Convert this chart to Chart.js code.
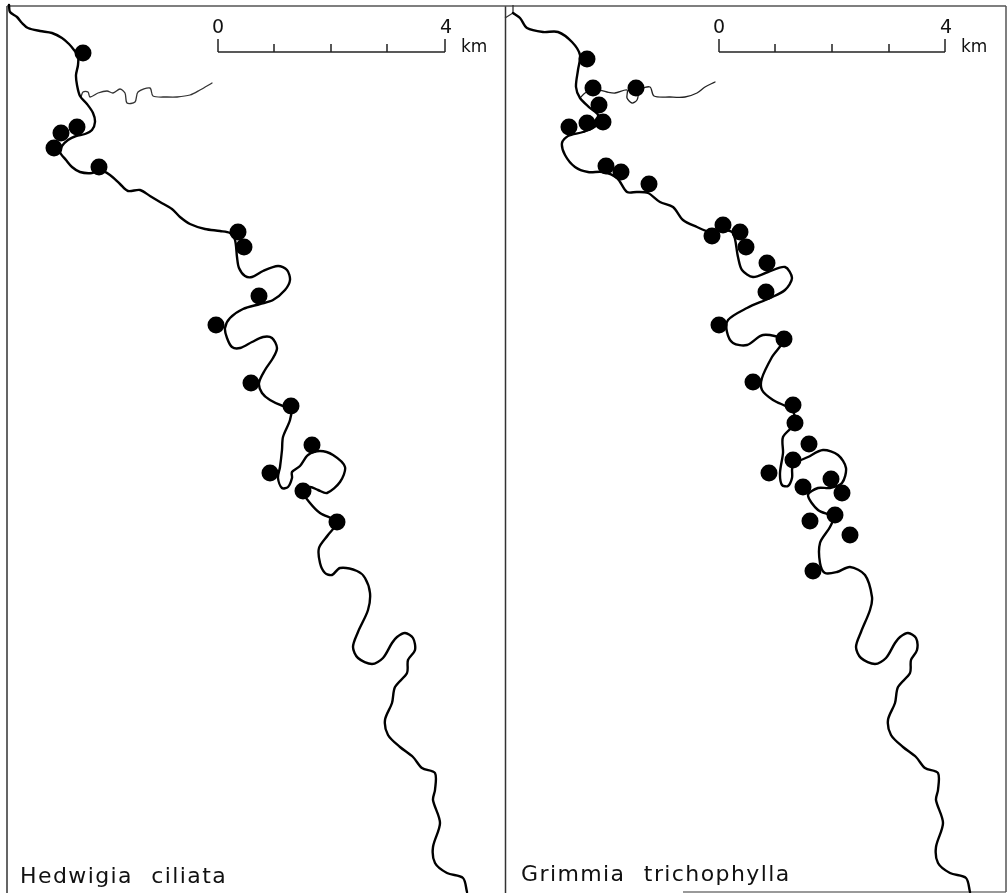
<!DOCTYPE html>
<html lang="en">
<head>
<meta charset="UTF-8">
<title>Hedwigia ciliata / Grimmia trichophylla</title>
<script src="https://cdn.jsdelivr.net/npm/chart.js"></script>
<style>
    html, body { margin: 0; padding: 0; background: white; }
    #wrap { width: 1007px; height: 893px; }
</style>
</head>
<body>
<div id="wrap"><canvas id="map"></canvas></div>
<script>
const riverLeft = [[9,5],[10,12],[17,17],[22,23],[28,28],[40,31],[52,33],[62,38],[69,44],[74,50],[78,56],[78,65],[76,75],[77,85],[80,96],[87,104],[93,113],[95,122],[92,130],[85,134],[76,136],[68,140],[62,146],[60,152],[66,160],[72,167],[80,172],[92,173],[100,170],[110,175],[120,184],[128,191],[140,190],[150,196],[160,202],[172,209],[180,217],[190,224],[205,229],[220,231],[230,233],[235,240],[237,257],[239,268],[245,276],[252,277],[263,271],[278,266],[287,270],[290,280],[285,290],[273,300],[260,304],[243,309],[230,318],[225,328],[227,338],[232,347],[240,348],[252,342],[263,337],[272,338],[277,348],[273,358],[265,370],[259,383],[262,393],[270,400],[283,406],[291,407],[290,420],[283,437],[282,450],[280,467],[278,478],[282,488],[288,487],[292,478],[292,472],[300,466],[308,455],[320,451],[333,455],[345,467],[340,482],[327,493],[318,490],[310,487],[303,492],[310,503],[320,513],[337,522],[328,535],[319,548],[320,563],[325,573],[332,575],[340,568],[357,571],[365,578],[370,593],[368,610],[358,632],[353,647],[358,658],[372,664],[383,658],[392,643],[397,637],[405,633],[413,638],[415,650],[408,660],[407,673],[395,687],[392,703],[385,720],[388,735],[400,747],[413,757],[422,768],[435,773],[435,790],[433,800],[440,823],[433,847],[435,863],[447,873],[463,878],[467,892]];
const riverRight = [[513,13],[520,18],[527,28],[543,32],[558,32],[572,42],[580,55],[578,70],[576,87],[580,98],[590,108],[598,115],[597,125],[583,132],[568,136],[562,143],[565,155],[575,167],[588,172],[603,172],[617,178],[627,192],[637,192],[648,193],[660,202],[673,207],[683,220],[697,227],[710,232],[723,230],[733,233],[738,257],[742,270],[753,277],[768,272],[785,267],[792,278],[785,290],[770,298],[747,308],[728,320],[727,332],[733,343],[747,345],[763,335],[783,340],[772,357],[762,378],[762,390],[773,400],[792,410],[795,423],[783,437],[783,453],[780,473],[782,485],[788,486],[792,478],[793,465],[808,457],[823,450],[838,455],[846,468],[842,483],[830,488],[818,488],[808,495],[818,510],[833,517],[830,527],[820,543],[820,563],[825,573],[837,572],[850,567],[865,575],[872,597],[870,610],[861,632],[856,647],[861,658],[875,664],[886,658],[895,643],[900,637],[908,633],[916,638],[917,650],[911,660],[910,673],[898,687],[895,703],[888,720],[891,735],[903,747],[916,757],[925,768],[938,773],[938,790],[936,800],[943,823],[936,847],[938,863],[950,873],[966,878],[970,892]];
const tributaryLeft = [[81,97],[83,92],[88,92],[90,97],[98,93],[107,91],[113,93],[120,89],[125,93],[127,103],[135,102],[138,92],[150,88],[153,96],[167,97],[177,97],[190,95],[200,90],[212,83]];
const tributaryRight = [[580,98],[585,93],[593,89],[607,92],[615,93],[627,90],[627,98],[632,103],[637,100],[640,90],[650,87],[654,96],[670,97],[685,97],[697,93],[705,87],[715,82]];
const forkRight = [[505,18],[513,13],[513,5]];

const dotsLeft = [[83,53],[77,127],[61,133],[54,148],[99,167],[238,232],[244,247],[259,296],[216,325],[251,383],[291,406],[312,445],[270,473],[303,491],[337,522]];
const dotsRight = [[587,59],[593,88],[636,88],[599,105],[603,122],[587,123],[569,127],[606,166],[621,172],[649,184],[723,225],[712,236],[740,232],[746,247],[767,263],[766,292],[719,325],[784,339],[753,382],[793,405],[795,423],[809,444],[793,460],[769,473],[803,487],[831,479],[842,493],[835,515],[810,521],[850,535],[813,571]];

const scaleTicksLeft = [218,274,331,387,445];
const scaleTicksRight = [719,775,832,889,945];
const scaleLabels = ["0","4"];
const scaleUnit = "km";
const speciesNames = ["Hedwigia ciliata","Grimmia trichophylla"];

function lineSet(data, width, color) {
    return { data: data, showLine: true, pointRadius: 0, borderColor: color || "#000", borderWidth: width, tension: 0, fill: false, clip: false };
}
function riverSet(data, width, color) {
    return Object.assign(lineSet(data, width, color), { tension: 0.3, borderCapStyle: "round", borderJoinStyle: "round" });
}
function dotSet(data) {
    return { data: data, showLine: false, pointRadius: 8.5, pointBackgroundColor: "#000", pointBorderWidth: 0 };
}
function scaleBarSets(ticks) {
    const sets = [lineSet([[ticks[0],52],[ticks[4],52]], 1.5, "#222")];
    ticks.forEach((t, i) => {
        const top = (i === 0 || i === 4) ? 39 : 44;
        sets.push(lineSet([[t,top],[t,52]], 1.5, "#222"));
    });
    return sets;
}

// labels go through the same scales as the marks
const mapLabels = {
    id: "mapLabels",
    afterDatasetsDraw(chart) {
        const ctx = chart.ctx, x = chart.scales.x, y = chart.scales.y;
        function put(text, px, py, font, align, spacing, wordGap) {
            ctx.font = font;
            ctx.textAlign = align;
            ctx.textBaseline = "alphabetic";
            ctx.letterSpacing = spacing || "0px";
            ctx.wordSpacing = wordGap || "0px";
            ctx.fillStyle = "#111";
            ctx.fillText(text, x.getPixelForValue(px), y.getPixelForValue(py));
        }
        ctx.save();
        const digit = "19px 'DejaVu Sans'", unit = "17px 'DejaVu Sans'", species = "22px 'DejaVu Sans'";
        put(scaleLabels[0], scaleTicksLeft[0], 33, digit, "center");
        put(scaleLabels[1], scaleTicksLeft[4] + 1, 33, digit, "center");
        put(scaleUnit, 461, 52, unit, "left");
        put(scaleLabels[0], scaleTicksRight[0], 33, digit, "center");
        put(scaleLabels[1], scaleTicksRight[4] + 1, 33, digit, "center");
        put(scaleUnit, 961, 52, unit, "left");
        put(speciesNames[0], 20, 883, species, "left", "1.4px", "10px");
        put(speciesNames[1], 521, 881, species, "left", "1.4px", "10px");
        ctx.restore();
    }
};

new Chart(document.getElementById("map"), {
    type: "scatter",
    data: {
        datasets: [
            dotSet(dotsLeft),
            dotSet(dotsRight),
            riverSet(riverLeft, 2.4),
            riverSet(riverRight, 2.4),
            riverSet(tributaryLeft, 1.3, "#333"),
            riverSet(tributaryRight, 1.3, "#222"),
            lineSet(forkRight, 1.3, "#333"),
            ...scaleBarSets(scaleTicksLeft),
            ...scaleBarSets(scaleTicksRight),
            lineSet([[7,6],[1006,6]], 1.5, "#555"),
            lineSet([[7,6],[7,893]], 1.5, "#333"),
            lineSet([[505.5,6],[505.5,893]], 1.5, "#333"),
            lineSet([[1006,6],[1006,892]], 1.5, "#555"),
            lineSet([[683,892],[1006,892]], 1.5, "#777")
        ]
    },
    options: {
        responsive: true,
        maintainAspectRatio: false,
        animation: false,
        layout: { padding: 0, autoPadding: false },
        plugins: { legend: { display: false }, tooltip: { enabled: false } },
        scales: {
            x: { type: "linear", min: 0, max: 1007, display: false },
            y: { type: "linear", min: 0, max: 893, reverse: true, display: false }
        }
    },
    plugins: [mapLabels]
});
</script>
</body>
</html>
